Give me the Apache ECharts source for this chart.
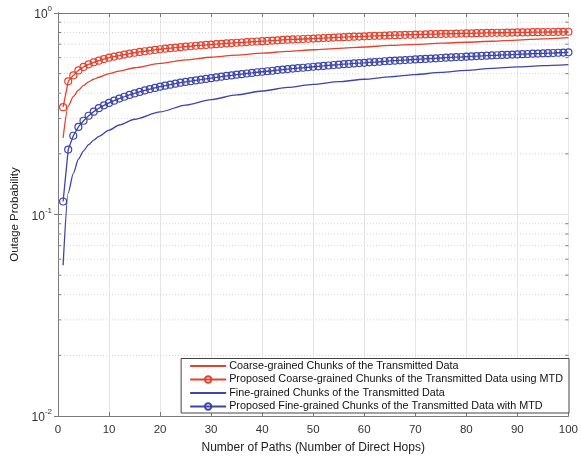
<!DOCTYPE html>
<html>
<head>
<meta charset="utf-8">
<script src="https://cdn.jsdelivr.net/npm/echarts@6/dist/echarts.min.js"></script>
<style>
  html, body { margin: 0; padding: 0; background: #fff; }
  #chart { width: 581px; height: 459px; }
</style>
</head>
<body>
<div id="chart"></div>
<script>
// Number of paths for the marker curves (one marker per path count)
const pathsMarked = Array.from({ length: 100 }, (_, i) => i + 1);

// Proposed coarse-grained chunks with MTD (red, circles)
const coarseMtd = [
  0.341, 0.458, 0.490, 0.519, 0.540, 0.556, 0.569, 0.580, 0.591, 0.600,
  0.608, 0.615, 0.622, 0.629, 0.635, 0.641, 0.646, 0.651, 0.656, 0.661,
  0.665, 0.669, 0.673, 0.677, 0.681, 0.684, 0.688, 0.691, 0.694, 0.697,
  0.700, 0.703, 0.706, 0.709, 0.712, 0.714, 0.717, 0.720, 0.722, 0.725,
  0.727, 0.730, 0.732, 0.735, 0.737, 0.739, 0.741, 0.743, 0.745, 0.747,
  0.749, 0.751, 0.753, 0.755, 0.757, 0.759, 0.761, 0.763, 0.764, 0.766,
  0.768, 0.770, 0.771, 0.773, 0.775, 0.776, 0.777, 0.779, 0.780, 0.781,
  0.782, 0.784, 0.785, 0.786, 0.787, 0.788, 0.789, 0.790, 0.791, 0.792,
  0.793, 0.794, 0.795, 0.796, 0.797, 0.798, 0.798, 0.799, 0.800, 0.801,
  0.801, 0.802, 0.803, 0.803, 0.804, 0.805, 0.805, 0.806, 0.806, 0.807
];

// Proposed fine-grained chunks with MTD (blue, circles)
const fineMtd = [
  0.116, 0.210, 0.246, 0.272, 0.292, 0.309, 0.324, 0.337, 0.348, 0.358,
  0.367, 0.376, 0.384, 0.392, 0.399, 0.406, 0.413, 0.419, 0.425, 0.431,
  0.436, 0.441, 0.446, 0.451, 0.455, 0.459, 0.463, 0.467, 0.471, 0.475,
  0.479, 0.483, 0.487, 0.490, 0.494, 0.497, 0.501, 0.504, 0.508, 0.511,
  0.514, 0.517, 0.521, 0.524, 0.527, 0.530, 0.533, 0.535, 0.538, 0.541,
  0.544, 0.546, 0.549, 0.552, 0.554, 0.557, 0.559, 0.562, 0.564, 0.566,
  0.569, 0.571, 0.573, 0.576, 0.578, 0.580, 0.582, 0.584, 0.586, 0.588,
  0.590, 0.592, 0.594, 0.596, 0.598, 0.600, 0.602, 0.604, 0.605, 0.607,
  0.609, 0.611, 0.612, 0.614, 0.616, 0.617, 0.619, 0.620, 0.622, 0.623,
  0.625, 0.626, 0.628, 0.629, 0.631, 0.632, 0.633, 0.635, 0.636, 0.638
];

// Path counts at which the plain curves are sampled
const pathsPlain = [1, 2, 3, 4, 5, 6, 7, 8, 10, 12, 15, 20, 25, 30, 35, 40, 45, 50, 55, 60, 65, 70, 75, 80, 85, 90, 95, 100];

// Coarse-grained chunks (red, solid)
const coarse = [
  0.240, 0.345, 0.385, 0.414, 0.437, 0.455, 0.469, 0.480, 0.500, 0.515,
  0.535, 0.562, 0.585, 0.603, 0.618, 0.632, 0.645, 0.657, 0.668, 0.678,
  0.690, 0.699, 0.708, 0.716, 0.724, 0.734, 0.744, 0.754
];

// Fine-grained chunks (blue, solid)
const fine = [
  0.056, 0.128, 0.160, 0.188, 0.207, 0.222, 0.234, 0.244, 0.262, 0.278,
  0.297, 0.323, 0.349, 0.372, 0.392, 0.410, 0.427, 0.442, 0.456, 0.469,
  0.482, 0.495, 0.507, 0.519, 0.531, 0.540, 0.548, 0.555
];

// Axis ticks
const xTicks = [0, 10, 20, 30, 40, 50, 60, 70, 80, 90, 100];
const yMin = 0.01, yMax = 1;
const minorY = [0.02, 0.03, 0.04, 0.05, 0.06, 0.07, 0.08, 0.09,
                0.2, 0.3, 0.4, 0.5, 0.6, 0.7, 0.8, 0.9];

const names = [
  'Coarse-grained Chunks of the Transmitted Data',
  'Proposed Coarse-grained Chunks of the Transmitted Data using MTD',
  'Fine-grained Chunks of the Transmitted Data',
  'Proposed Fine-grained Chunks of the Transmitted Data with MTD'
];

const RED = '#e5412d';
const BLUE = '#3d45aa';
const FRAME = '#7a7a7a';
const CLEAR = 'rgba(255,255,255,0)';
const FONT = '"Liberation Sans", Arial, Helvetica, sans-serif';

const zip = (xs, ys) => xs.map((x, i) => [x, ys[i]]);

const chart = echarts.init(document.getElementById('chart'), null, { renderer: 'canvas' });

const supLabel = v => {
  const e = Math.round(Math.log10(v));
  return '{b|10}{s|' + e + '}';
};

chart.setOption({
  backgroundColor: '#fff',
  animation: false,
  textStyle: { fontFamily: FONT },
  grid: { left: 58, top: 13, right: 6, bottom: 39, containLabel: false },
  xAxis: [
    {
      type: 'value', min: xTicks[0], max: xTicks[xTicks.length - 1], interval: 10,
      name: 'Number of Paths (Number of Direct Hops)',
      nameLocation: 'middle', nameGap: 26,
      nameTextStyle: { fontSize: 12, color: '#222', fontFamily: FONT },
      axisLine: { show: true, lineStyle: { color: FRAME, width: 1 } },
      axisTick: { show: true, inside: true, length: 4, lineStyle: { color: FRAME } },
      axisLabel: { fontSize: 11.5, color: '#333', margin: 8, fontFamily: FONT },
      splitLine: { show: true, lineStyle: { color: '#e4e4e4', width: 1 } }
    },
    {
      type: 'value', min: xTicks[0], max: xTicks[xTicks.length - 1], interval: 10, position: 'top',
      axisLine: { show: true, lineStyle: { color: FRAME, width: 1 } },
      axisTick: { show: true, inside: true, length: 4, lineStyle: { color: FRAME } },
      axisLabel: { show: false },
      splitLine: { show: false }
    }
  ],
  yAxis: [
    {
      type: 'log', logBase: 10, min: yMin, max: yMax,
      name: 'Outage Probability',
      nameLocation: 'middle', nameGap: 33,
      nameTextStyle: { fontSize: 11.5, color: '#222', fontFamily: FONT },
      axisLine: { show: true, lineStyle: { color: FRAME, width: 1 } },
      axisTick: { show: true, inside: true, length: 4, lineStyle: { color: FRAME } },
      axisLabel: {
        formatter: supLabel, margin: 6,
        rich: {
          b: { fontSize: 12, color: '#333', fontFamily: FONT, lineHeight: 16, verticalAlign: 'bottom' },
          s: { fontSize: 8, color: '#333', fontFamily: FONT, lineHeight: 16, verticalAlign: 'top' }
        }
      },
      splitLine: { show: true, lineStyle: { color: '#e4e4e4', width: 1 } }
    },
    {
      type: 'log', logBase: 10, min: yMin, max: yMax, position: 'right',
      axisLine: { show: true, lineStyle: { color: FRAME, width: 1 } },
      axisTick: { show: true, inside: true, length: 4, lineStyle: { color: FRAME } },
      axisLabel: { show: false },
      splitLine: { show: false }
    }
  ],
  legend: {
    orient: 'vertical',
    right: 12, bottom: 46,
    data: names,
    itemWidth: 36, itemHeight: 8, itemGap: 2.5,
    padding: [2, 6, 1, 8],
    backgroundColor: '#fff',
    borderColor: '#444', borderWidth: 1,
    textStyle: { fontSize: 10.8, color: '#111', fontFamily: FONT, padding: [0, 0, 0, -2] }
  },
  series: [
    {
      // dotted minor grid and minor ticks of the log axis
      type: 'custom',
      silent: true,
      z: 1,
      data: minorY,
      encode: { y: 0 },
      renderItem: (params, api) => {
        const v = api.value(0);
        const p0 = api.coord([xTicks[0], v]);
        const p1 = api.coord([xTicks[xTicks.length - 1], v]);
        const tick = { stroke: FRAME, lineWidth: 1 };
        return {
          type: 'group',
          children: [
            { type: 'line', shape: { x1: p0[0], y1: p0[1], x2: p1[0], y2: p1[1] },
              style: { stroke: '#d2d2d2', lineWidth: 1, lineDash: [1, 2] } },
            { type: 'line', shape: { x1: p0[0], y1: p0[1], x2: p0[0] + 3, y2: p0[1] }, style: tick },
            { type: 'line', shape: { x1: p1[0] - 3, y1: p1[1], x2: p1[0], y2: p1[1] }, style: tick }
          ]
        };
      }
    },
    {
      name: names[0], type: 'line', z: 3,
      data: zip(pathsPlain, coarse),
      showSymbol: false, symbol: 'none',
      smooth: 0.25, smoothMonotone: 'x',
      lineStyle: { color: RED, width: 1.3 },
      itemStyle: { color: CLEAR, borderColor: CLEAR }
    },
    {
      name: names[1], type: 'line', z: 4,
      data: zip(pathsMarked, coarseMtd),
      symbol: 'circle', symbolSize: 7,
      lineStyle: { color: RED, width: 1.3 },
      itemStyle: { color: CLEAR, borderColor: RED, borderWidth: 1.2 }
    },
    {
      name: names[2], type: 'line', z: 3,
      data: zip(pathsPlain, fine),
      showSymbol: false, symbol: 'none',
      smooth: 0.25, smoothMonotone: 'x',
      lineStyle: { color: BLUE, width: 1.3 },
      itemStyle: { color: CLEAR, borderColor: CLEAR }
    },
    {
      name: names[3], type: 'line', z: 4,
      data: zip(pathsMarked, fineMtd),
      symbol: 'circle', symbolSize: 7,
      lineStyle: { color: BLUE, width: 1.3 },
      itemStyle: { color: CLEAR, borderColor: BLUE, borderWidth: 1.2 }
    }
  ]
});
</script>
</body>
</html>
